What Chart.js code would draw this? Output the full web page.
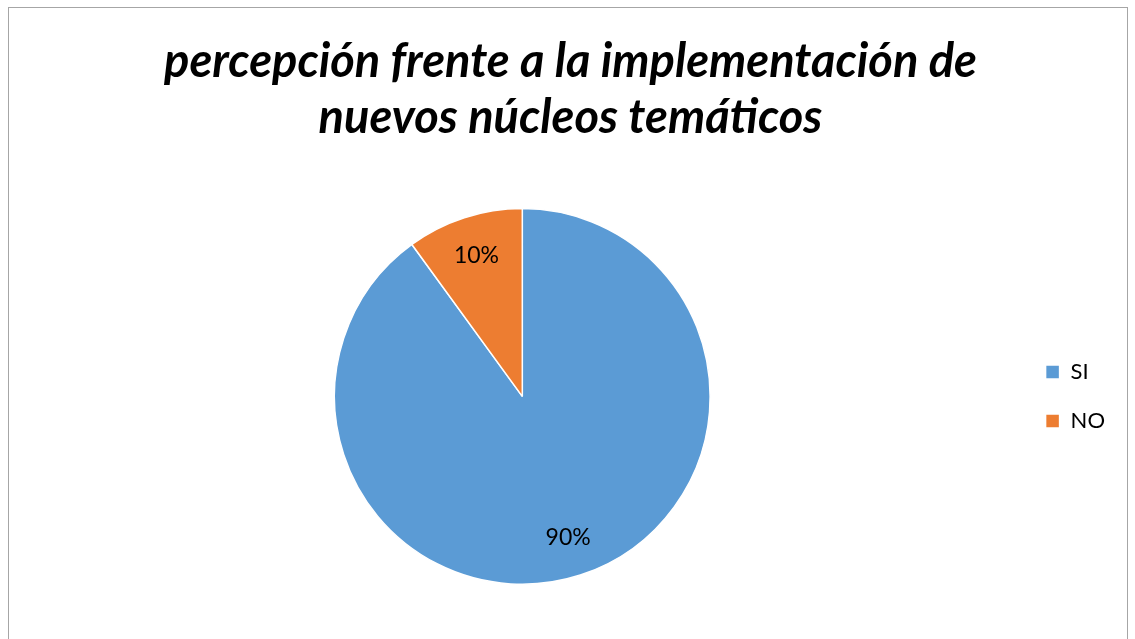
<!DOCTYPE html>
<html>
<head>
<meta charset="utf-8">
<script src="https://cdn.jsdelivr.net/npm/chart.js@4"></script>
<style>
  body { margin: 0; background: #fff; overflow: hidden; }
  #marco { position: absolute; left: 8px; top: 7px; width: 1120px; height: 700px; border: 1px solid #a6a6a6; box-sizing: border-box; }
  #caja { position: absolute; left: 0; top: 0; width: 1135px; height: 639px; }
</style>
</head>
<body>
<div id="marco"></div>
<div id="caja"><canvas id="grafico"></canvas></div>
<script>
const categorias = ['SI', 'NO'];
const porcentajes = [90, 10];
const colores = ['#5B9BD5', '#ED7D31'];
const titulo = ['percepción frente a la implementación de', 'nuevos núcleos temáticos'];

// etiquetas de porcentaje dentro de cada sector
const etiquetasSector = {
  id: 'etiquetasSector',
  afterDatasetsDraw(chart) {
    const ctx = chart.ctx;
    const meta = chart.getDatasetMeta(0);
    ctx.save();
    ctx.font = '23px Lato';
    ctx.fillStyle = '#000';
    ctx.textAlign = 'center';
    ctx.textBaseline = 'middle';
    meta.data.forEach((arco, i) => {
      const p = arco.getProps(['x', 'y', 'startAngle', 'endAngle', 'outerRadius'], true);
      const medio = (p.startAngle + p.endAngle) / 2;
      const r = p.outerRadius * 0.79;
      ctx.fillText(porcentajes[i] + '%', p.x + Math.cos(medio) * r, p.y + Math.sin(medio) * r);
    });
    ctx.restore();
  }
};

const ctx = document.getElementById('grafico').getContext('2d');
new Chart(ctx, {
  type: 'pie',
  data: {
    labels: categorias,
    datasets: [{
      data: porcentajes,
      backgroundColor: colores,
      borderColor: '#ffffff',
      borderWidth: 1.5
    }]
  },
  options: {
    responsive: true,
    maintainAspectRatio: false,
    animation: false,
    layout: { padding: { top: 0, bottom: 54, left: 26, right: 20 } },
    plugins: {
      tooltip: { enabled: false },
      title: {
        display: true,
        text: titulo,
        color: '#000',
        font: { family: 'Lato', size: 47, weight: 'bold', style: 'italic', lineHeight: 1.19 },
        padding: { top: 34, bottom: 62 }
      },
      legend: {
        position: 'right',
        fullSize: false,
        labels: {
          color: '#000',
          font: { family: 'Lato', size: 22 },
          boxWidth: 14,
          boxHeight: 14,
          padding: 27
        }
      }
    }
  },
  plugins: [etiquetasSector]
});
</script>
</body>
</html>
